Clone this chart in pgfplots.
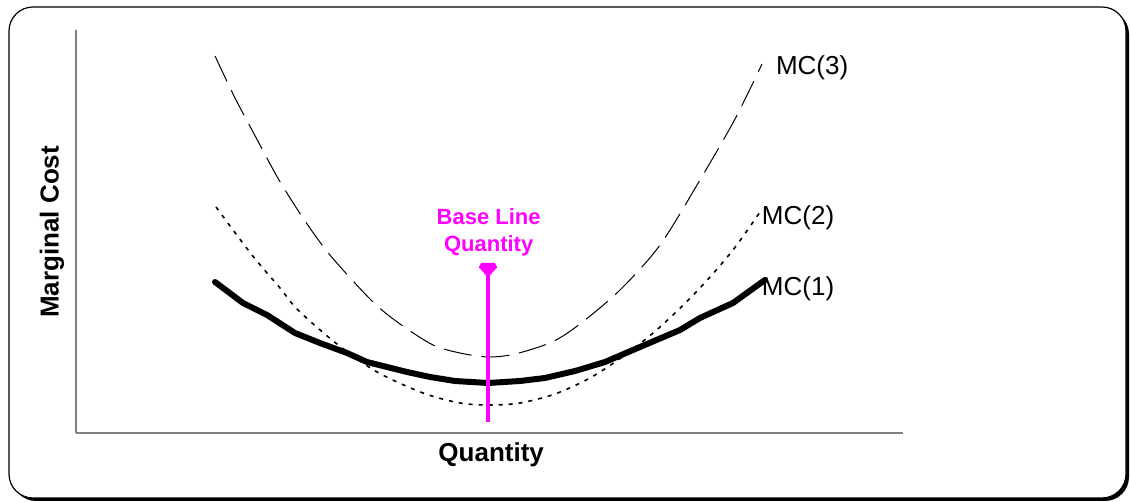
\documentclass[border=0pt]{standalone}
\usepackage{fontspec}
\setmainfont{Liberation Sans}
\usepackage{pgfplots}
\pgfplotsset{compat=1.18}
\usetikzlibrary{plotmarks}
\definecolor{axgray}{RGB}{128,128,128}
\definecolor{bmag}{RGB}{255,0,255}
\pgfdeclareplotmark{shield}{%
  \pgfpathmoveto{\pgfqpoint{-0.75\pgfplotmarksize}{0.75\pgfplotmarksize}}%
  \pgfpathlineto{\pgfqpoint{0.75\pgfplotmarksize}{0.75\pgfplotmarksize}}%
  \pgfpathlineto{\pgfqpoint{1\pgfplotmarksize}{0.3\pgfplotmarksize}}%
  \pgfpathlineto{\pgfqpoint{0pt}{-0.8\pgfplotmarksize}}%
  \pgfpathlineto{\pgfqpoint{-1\pgfplotmarksize}{0.3\pgfplotmarksize}}%
  \pgfpathclose
  \pgfusepathqfillstroke}
\begin{document}
\begin{tikzpicture}
\useasboundingbox (-38pt,-34.5pt) rectangle (527pt,216.5pt);
% shadow and frame
\fill[black,rounded corners=12pt] (-32pt,-34pt) rectangle (526.5pt,211.5pt);
\draw[black,fill=white,line width=0.6pt,rounded corners=12pt] (-33.5pt,-32.5pt) rectangle (525pt,213pt);
\begin{axis}[
  at={(0pt,0pt)}, anchor=south west,
  scale only axis, width=413.5pt, height=201.5pt,
  xmin=0, xmax=100, ymin=0, ymax=100,
  axis x line=bottom, axis y line=left,
  axis line style={-, axgray, line width=1pt},
  xtick=\empty, ytick=\empty,
  clip=false,
  xlabel={\bfseries Quantity},
  ylabel={\bfseries Marginal Cost},
  xlabel style={at={(axis description cs:0.502,-0.055)}, anchor=center, font=\fontsize{13}{15}\selectfont},
  ylabel style={at={(axis description cs:-0.029,0.499)}, anchor=center, font=\fontsize{13}{15}\selectfont},
]
% MC(3) dashed
\addplot[black, line width=0.5pt, smooth, dash pattern=on 14pt off 5pt] coordinates {
(16.81,93.55) (19.23,83.13) (22.25,71.46) (24.55,62.78) (27.45,53.35) (30.71,44.17)
(35.79,32.75) (39.18,27.05) (43.17,21.84) (46.43,19.85) (49.82,18.86) (53.08,19.60)
(57.56,22.58) (60.94,27.05) (65.78,35.48) (70.62,46.65) (75.45,62.78) (79.69,77.92) (82.95,91.56)
};
% MC(2) dotted
\addplot[black, line width=0.8pt, smooth, dash pattern=on 2pt off 3pt] coordinates {
(16.93,56.08) (21.28,44.17) (24.67,35.98) (26.84,30.52) (31.56,22.08) (36.40,15.14)
(41.96,9.93) (46.43,7.44) (50.06,6.95) (53.69,7.44) (57.92,9.68) (62.15,13.65)
(66.38,19.35) (70.62,26.30) (75.45,35.98) (79.44,45.41) (82.71,54.84)
};
% MC(1) thick
\addplot[black, line width=3pt, line cap=round, line join=round] coordinates {
(16.81,37.47) (20.19,32.26) (23.10,29.28) (26.48,24.81) (29.50,22.33) (32.77,19.85)
(35.19,17.62) (37.61,16.38) (40.02,15.14) (42.81,13.90) (45.83,12.90) (49.82,12.41)
(53.69,12.90) (56.71,13.65) (60.34,15.38) (63.97,17.62) (68.20,21.34) (73.04,25.56)
(75.45,28.54) (79.44,32.26) (83.31,37.97)
};
% Base line quantity marker
\addplot[bmag, line width=2pt, mark=none] coordinates {(49.82,2.7) (49.82,40.2)};
\addplot[bmag, only marks, mark=shield, mark size=4.3pt, mark options={fill=bmag, draw=bmag, line width=0.5pt, line join=round}] coordinates {(49.82,40.5)};
\node[bmag, font=\fontsize{11}{13.5}\selectfont\bfseries, align=center] at (axis cs:49.9,49.9) {Base Line\\Quantity};
% curve labels
\node[anchor=west, font=\fontsize{13}{15}\selectfont, inner sep=0pt] at (axis cs:84.6,90.6) {MC(3)};
\node[anchor=west, font=\fontsize{13}{15}\selectfont, inner sep=0pt] at (axis cs:82.9,53.3) {MC(2)};
\node[anchor=west, font=\fontsize{13}{15}\selectfont, inner sep=0pt] at (axis cs:82.9,35.7) {MC(1)};
\end{axis}
\end{tikzpicture}
\end{document}
